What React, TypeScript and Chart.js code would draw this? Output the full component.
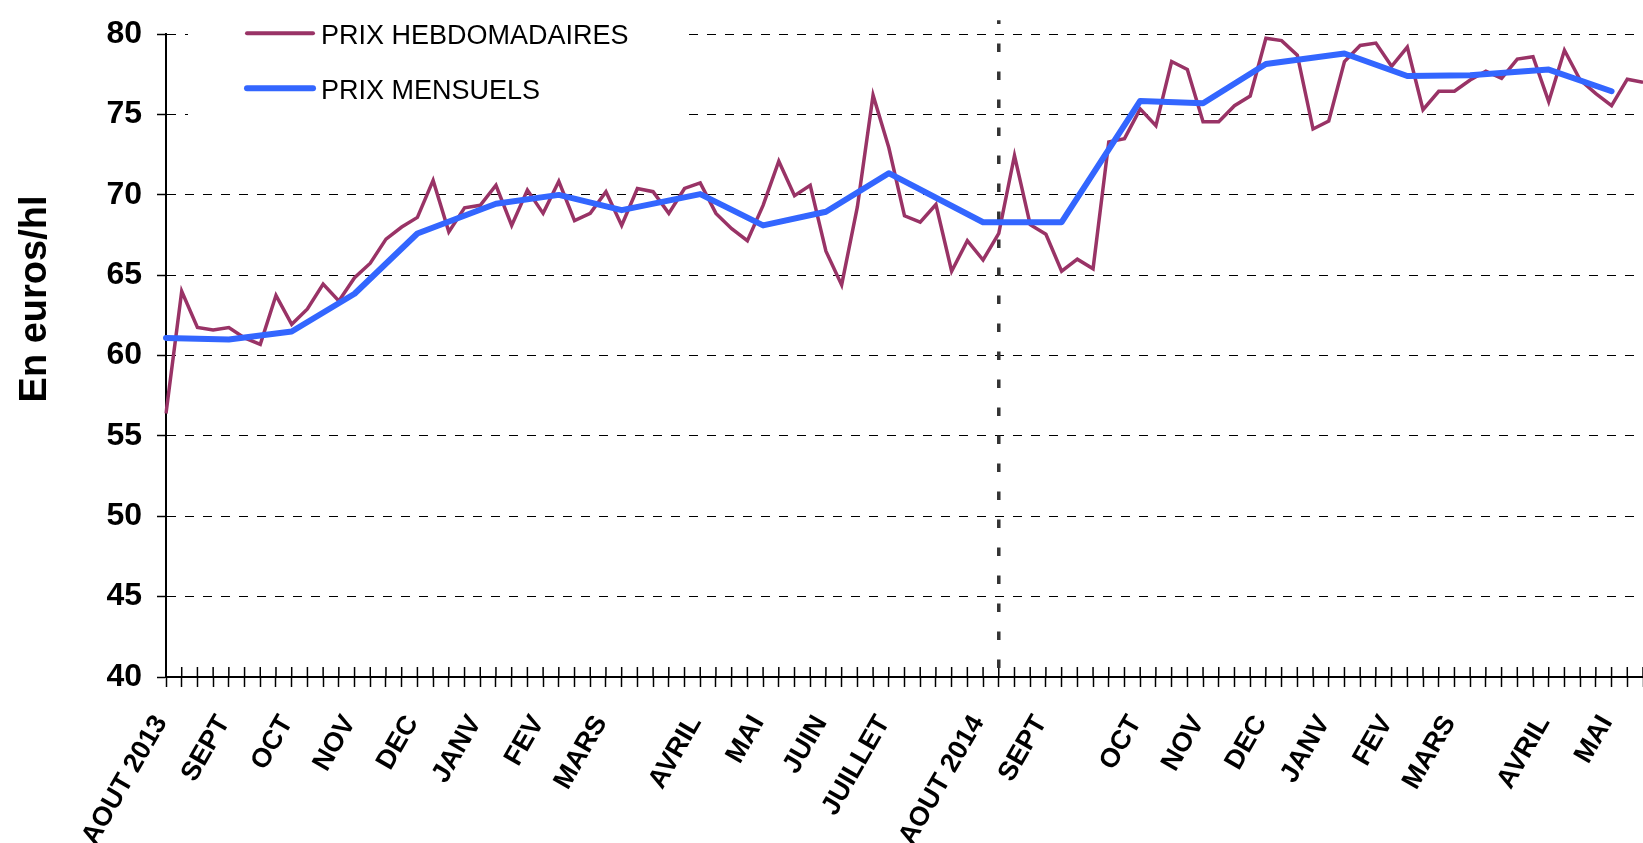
import React, { useEffect, useRef } from 'react';
import { Chart, registerables } from 'chart.js';

Chart.register(...registerables);

const FONT = '"Liberation Sans", Arial, sans-serif';

// X axis month labels and the week index where each is shown
const monthLabels = ['AOUT 2013', 'SEPT', 'OCT', 'NOV', 'DEC', 'JANV', 'FEV', 'MARS', 'AVRIL', 'MAI', 'JUIN', 'JUILLET', 'AOUT 2014', 'SEPT', 'OCT', 'NOV', 'DEC', 'JANV', 'FEV', 'MARS', 'AVRIL', 'MAI'];
const monthLabelWeeks = [0, 4, 8, 12, 16, 20, 24, 28, 34, 38, 42, 46, 52, 56, 62, 66, 70, 74, 78, 82, 88, 92];

// Weekly prices (euros/hl)
const weeklyPrices = [
  56.4, 64.0, 61.75, 61.6, 61.75, 61.1, 60.7, 63.75, 61.95, 62.9,
  64.45, 63.4, 64.85, 65.75, 67.25, 68.0, 68.6, 70.9, 67.7, 69.2,
  69.35, 70.6, 68.1, 70.3, 68.85, 70.85, 68.4, 68.85, 70.2, 68.1,
  70.4, 70.2, 68.85, 70.4, 70.75, 68.85, 67.9, 67.15, 69.35, 72.1,
  69.95, 70.6, 66.5, 64.4, 69.25, 76.2, 72.95, 68.7, 68.3, 69.4,
  65.25, 67.15, 65.95, 67.6, 72.45, 68.15, 67.55, 65.25, 66.0, 65.4,
  73.3, 73.5, 75.35, 74.3, 78.3, 77.8, 74.55, 74.55, 75.55, 76.15,
  79.75, 79.6, 78.7, 74.1, 74.6, 78.3, 79.3, 79.45, 78.0, 79.2,
  75.3, 76.45, 76.45, 77.15, 77.7, 77.25, 78.45, 78.6, 75.8, 79.0,
  77.15, 76.3, 75.55, 77.2, 77.0,
];

// Monthly prices (euros/hl) and the week index where each is plotted
const monthlyWeeks = [0, 4, 8, 12, 16, 21, 25, 29, 34, 38, 42, 46, 52, 57, 62, 66, 70, 75, 79, 83, 88, 92];
const monthlyPrices = [61.1, 61.0, 61.5, 63.85, 67.6, 69.45, 70.0, 69.05, 70.05, 68.1, 68.95, 71.35, 68.3, 68.3, 75.85, 75.7, 78.15, 78.8, 77.4, 77.45, 77.8, 76.45];

// Y axis
const yMin = 40;
const yMax = 80;
const yStep = 5;

// Week where the dotted separator (campaign change) is drawn
const separatorWeek = 53;

const seriesNames = ['PRIX HEBDOMADAIRES', 'PRIX MENSUELS'];
const seriesColors = ['#993366', '#3366FF'];
const yAxisTitle = 'En euros/hl';

export default function App() {
  const canvasRef = useRef<HTMLCanvasElement | null>(null);

  useEffect(() => {
    const canvas = canvasRef.current;
    if (!canvas) return;

    const labels = weeklyPrices.map((_, i) => {
      const k = monthLabelWeeks.indexOf(i);
      return k >= 0 ? monthLabels[k] : '';
    });
    const monthlySeries: (number | null)[] = weeklyPrices.map(() => null);
    monthlyWeeks.forEach((w, k) => {
      monthlySeries[w] = monthlyPrices[k];
    });

    const decor = {
      id: 'decor',
      beforeDatasetsDraw(chart: any) {
        const { ctx, chartArea, scales } = chart;
        const x = scales.x;
        ctx.save();
        // upper half of the crossing tick marks on the x axis
        ctx.strokeStyle = '#000';
        ctx.lineWidth = 1.5;
        for (let i = 0; i < chart.data.labels.length; i++) {
          const px = x.getPixelForValue(i);
          ctx.beginPath();
          ctx.moveTo(px, chartArea.bottom - 10);
          ctx.lineTo(px, chartArea.bottom);
          ctx.stroke();
        }
        // dotted separator
        const sx = x.getPixelForValue(separatorWeek);
        ctx.strokeStyle = '#333';
        ctx.lineWidth = 3.5;
        ctx.setLineDash([8.5, 19.5]);
        ctx.lineDashOffset = 4.6;
        ctx.beginPath();
        ctx.moveTo(sx, chartArea.top - 14);
        ctx.lineTo(sx, chartArea.bottom + 10);
        ctx.stroke();
        ctx.setLineDash([]);

        // legend
        ctx.fillStyle = '#fff';
        ctx.fillRect(188, 0, 500, 125);
        const ds = chart.data.datasets;
        const rows = [33.3, 88.3];
        ds.forEach((d: any, i: number) => {
          ctx.strokeStyle = d.borderColor;
          ctx.lineWidth = i === 0 ? 4 : 6;
          ctx.lineCap = 'round';
          ctx.beginPath();
          ctx.moveTo(247, rows[i]);
          ctx.lineTo(313, rows[i]);
          ctx.stroke();
          ctx.fillStyle = '#000';
          ctx.font = `27px ${FONT}`;
          ctx.textAlign = 'left';
          ctx.textBaseline = 'alphabetic';
          ctx.fillText(d.label, 321, rows[i] + 10.5);
        });
        ctx.restore();
      },
      afterDraw(chart: any) {
        const { ctx } = chart;
        ctx.save();
        ctx.translate(36, 299);
        ctx.rotate(-Math.PI / 2);
        ctx.fillStyle = '#000';
        ctx.font = `bold 38px ${FONT}`;
        ctx.textAlign = 'center';
        ctx.textBaseline = 'middle';
        ctx.fillText(yAxisTitle, 0, 0);
        ctx.restore();
      },
    };

    const chart = new Chart(canvas, {
      type: 'line',
      data: {
        labels,
        datasets: [
          {
            label: seriesNames[0],
            data: weeklyPrices,
            borderColor: seriesColors[0],
            backgroundColor: seriesColors[0],
            borderWidth: 3.5,
            pointRadius: 0,
            tension: 0,
            order: 2,
          },
          {
            label: seriesNames[1],
            data: monthlySeries,
            borderColor: seriesColors[1],
            backgroundColor: seriesColors[1],
            borderWidth: 6,
            pointRadius: 0,
            tension: 0,
            spanGaps: true,
            borderCapStyle: 'round',
            borderJoinStyle: 'round',
            order: 1,
          },
        ],
      },
      options: {
        responsive: false,
        animation: false,
        layout: { padding: { top: 27, left: 0, right: 0, bottom: 0 } },
        plugins: {
          legend: { display: false },
          tooltip: { enabled: false },
        },
        scales: {
          x: {
            type: 'category',
            offset: false,
            grid: {
              display: true,
              drawOnChartArea: false,
              drawTicks: true,
              tickLength: 10,
              tickColor: '#000',
              tickWidth: 1.5,
            },
            border: { display: true, color: '#000', width: 2 },
            ticks: {
              autoSkip: false,
              maxRotation: 60,
              minRotation: 60,
              padding: 23,
              labelOffset: -5,
              color: '#000',
              font: { family: FONT, size: 27, weight: 'bold' },
            },
            afterFit: (s: any) => {
              s.height = 166;
              s.paddingLeft = 0;
              s.paddingRight = 0;
            },
          },
          y: {
            min: yMin,
            max: yMax,
            ticks: {
              stepSize: yStep,
              padding: 15,
              color: '#000',
              font: { family: FONT, size: 32, weight: 'bold' },
            },
            grid: {
              color: '#000',
              lineWidth: 1,
              drawTicks: true,
              tickLength: 9,
              tickColor: '#000',
              tickWidth: 1.5,
            },
            border: { display: true, color: '#000', width: 2, dash: [9, 9] },
            afterFit: (s: any) => {
              s.width = 166;
            },
          },
        },
      },
      plugins: [decor],
    } as any);

    return () => chart.destroy();
  }, []);

  return (
    <div style={{ position: 'absolute', left: 0, top: 0, width: 1643, height: 843, background: '#fff' }}>
      <canvas ref={canvasRef} width={1643} height={843} style={{ display: 'block' }} />
    </div>
  );
}
